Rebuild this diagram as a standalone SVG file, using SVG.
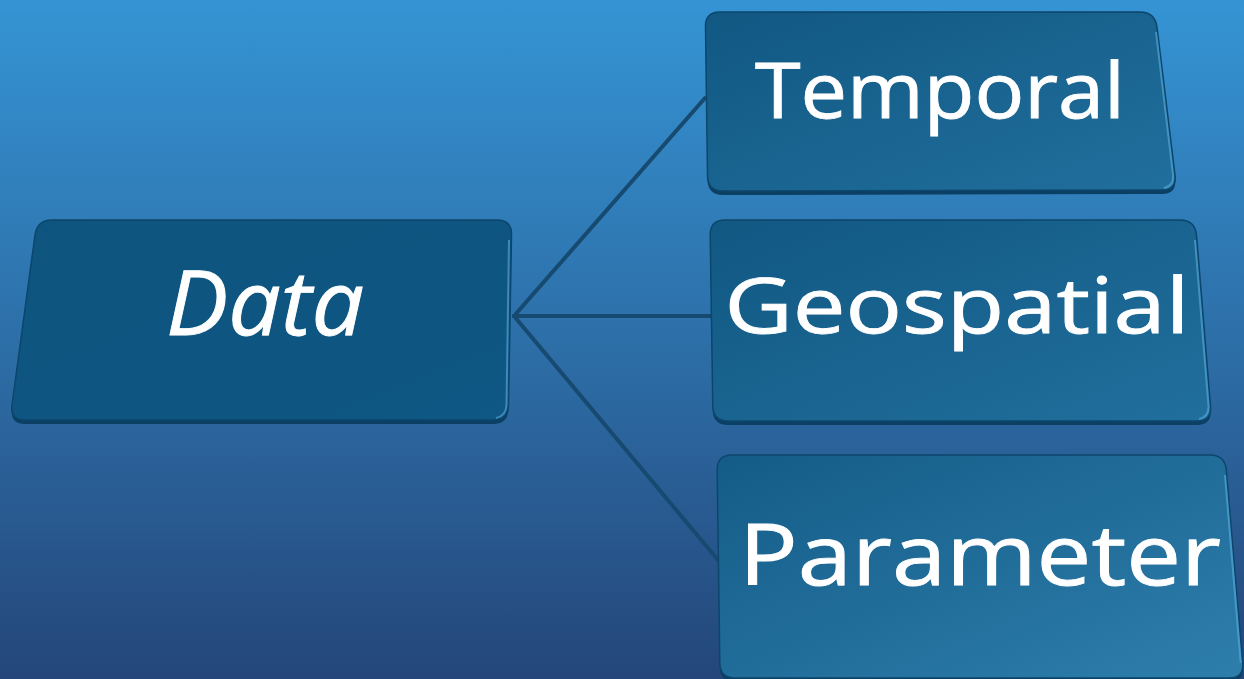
<svg xmlns="http://www.w3.org/2000/svg" width="1244" height="679" viewBox="0 0 1244 679">
<defs>
<linearGradient id="bg" x1="0" y1="0" x2="0" y2="1">
<stop offset="0" stop-color="#3594d4"/>
<stop offset="0.5" stop-color="#2d6fa8"/>
<stop offset="1" stop-color="#24467a"/>
</linearGradient>
<linearGradient id="face" x1="0" y1="0" x2="1" y2="1">
<stop offset="0" stop-color="#115883"/>
<stop offset="1" stop-color="#216f9d"/>
</linearGradient>
<linearGradient id="faceP" x1="0" y1="0" x2="1" y2="1">
<stop offset="0" stop-color="#145c88"/>
<stop offset="1" stop-color="#2e7eac"/>
</linearGradient>
<linearGradient id="faceD" x1="0" y1="0" x2="1" y2="1">
<stop offset="0" stop-color="#0d547e"/>
<stop offset="1" stop-color="#0f5784"/>
</linearGradient>
</defs>
<style>
.side{fill:#0b3f63;}
.edge{fill:none;stroke:#5aaee0;stroke-width:2;stroke-opacity:0.6;}
.out{stroke:#0c466c;stroke-width:1.5;}
.lbl{font-family:"Open Sans","DejaVu Sans",sans-serif;fill:#ffffff;stroke:#ffffff;stroke-width:0.9;text-anchor:middle;}
.conn{stroke:#174a70;stroke-width:4;fill:none;stroke-linecap:round;}
</style>
<rect width="1244" height="679" fill="url(#bg)"/>
<g id="connectors">
<line class="conn" x1="514" y1="316" x2="705" y2="98"/>
<line class="conn" x1="514" y1="316" x2="711" y2="316"/>
<line class="conn" x1="514" y1="316" x2="718" y2="560"/>
</g>
<g id="node-data">
<path class="side" transform="translate(0,4)" d="M 52,220 L 497,220 Q 512,220 511.5,235 L 508.5,405 Q 508,420 493,420 L 25,420 Q 10,420 12,405 L 35,235 Q 37,220 52,220 Z"/>
<path class="out" fill="url(#faceD)" d="M 52,220 L 497,220 Q 512,220 511.5,235 L 508.5,405 Q 508,420 493,420 L 25,420 Q 10,420 12,405 L 35,235 Q 37,220 52,220 Z"/>
<path class="edge" d="M 509,240 L 506.5,405 Q 506,416 496,418"/>
<text class="lbl" x="265" y="335" font-size="90" font-style="italic" textLength="198" lengthAdjust="spacingAndGlyphs">Data</text>
</g>
<g id="node-temporal">
<path class="side" transform="translate(0,4)" d="M 720,12 L 1140,12 Q 1155,12 1157,27 L 1175,175 Q 1177,190 1162,190 L 723,191 Q 708,191 707.5,176 L 705.5,27 Q 705,12 720,12 Z"/>
<path class="out" fill="url(#face)" d="M 720,12 L 1140,12 Q 1155,12 1157,27 L 1175,175 Q 1177,190 1162,190 L 723,191 Q 708,191 707.5,176 L 705.5,27 Q 705,12 720,12 Z"/>
<path class="edge" d="M 1156,32 L 1173,175 Q 1174,186 1164,188"/>
<text class="lbl" x="940" y="118" font-size="76" textLength="370" lengthAdjust="spacingAndGlyphs">Temporal</text>
</g>
<g id="node-geospatial">
<path class="side" transform="translate(0,4)" d="M 725,220 L 1180,220 Q 1195,220 1196.5,235 L 1210.5,406 Q 1212,421 1197,421 L 728,421 Q 713,421 712.8,406 L 710.2,235 Q 710,220 725,220 Z"/>
<path class="out" fill="url(#face)" d="M 725,220 L 1180,220 Q 1195,220 1196.5,235 L 1210.5,406 Q 1212,421 1197,421 L 728,421 Q 713,421 712.8,406 L 710.2,235 Q 710,220 725,220 Z"/>
<path class="edge" d="M 1195,240 L 1208.5,406 Q 1209,417 1199,419"/>
<text class="lbl" x="957" y="333" font-size="76" textLength="465" lengthAdjust="spacingAndGlyphs">Geospatial</text>
</g>
<g id="node-parameter">
<path class="side" transform="translate(0,4)" d="M 732,455 L 1210,455 Q 1225,455 1226.3,470 L 1242.7,663 Q 1244,678 1229,678 L 735,678 Q 720,678 719.8,663 L 717.2,470 Q 717,455 732,455 Z"/>
<path class="out" fill="url(#faceP)" d="M 732,455 L 1210,455 Q 1225,455 1226.3,470 L 1242.7,663 Q 1244,678 1229,678 L 735,678 Q 720,678 719.8,663 L 717.2,470 Q 717,455 732,455 Z"/>
<path class="edge" d="M 1225,475 L 1240.7,663"/>
<text class="lbl" x="980" y="585" font-size="84" textLength="482" lengthAdjust="spacingAndGlyphs">Parameter</text>
</g>
</svg>
